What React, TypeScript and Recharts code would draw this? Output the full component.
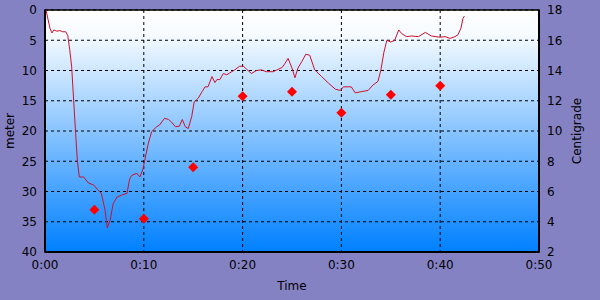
import React from 'react';
import { ComposedChart, Line, Scatter, XAxis, YAxis, CartesianGrid, ReferenceArea } from 'recharts';

const depthTimes = [0.1, 0.3, 0.5, 0.7, 0.9, 1.2, 1.5, 1.8, 2.1, 2.3, 2.5, 2.7, 2.9, 3.1, 3.27, 3.47, 3.9, 4.4, 4.9, 5.4, 5.7, 6.07, 6.3, 6.6, 6.9, 7.3, 7.76, 8.3, 8.5, 8.6, 8.8, 9.3, 9.6, 9.9, 10.1, 10.46, 10.8, 11.3, 11.6, 12.1, 12.5, 12.8, 13.2, 13.6, 13.9, 14.2, 14.5, 14.85, 15.1, 15.5, 15.9, 16.2, 16.5, 16.9, 17.2, 17.4, 17.7, 18.05, 18.4, 18.7, 19.2, 19.7, 20.1, 20.4, 20.9, 21.4, 21.9, 22.4, 23.1, 23.6, 24.0, 24.3, 24.6, 25.0, 25.3, 25.6, 26.0, 26.4, 26.8, 27.3, 28.0, 28.7, 29.4, 29.9, 30.2, 31.0, 31.4, 32.0, 32.7, 33.2, 33.7, 34.0, 34.3, 34.6, 35.0, 35.4, 35.8, 36.1, 36.6, 37.1, 37.8, 38.5, 39.1, 40.0, 40.5, 41.0, 41.5, 41.8, 42.1, 42.3, 42.45];
const depthMeters = [0, 1.5, 3.0, 3.8, 3.3, 3.5, 3.4, 3.6, 3.6, 4.2, 6.5, 9.4, 14.9, 20.4, 24.8, 27.6, 27.6, 28.6, 28.9, 29.8, 30.3, 33.0, 36.0, 34.7, 32.0, 30.9, 30.6, 30.3, 28.5, 27.8, 27.3, 27.0, 27.6, 26.4, 24.8, 22.0, 20.1, 19.3, 19.0, 17.9, 18.1, 18.5, 19.3, 19.2, 18.1, 19.3, 19.6, 17.6, 15.2, 14.6, 13.5, 12.7, 12.7, 11.0, 12.0, 11.5, 11.5, 10.5, 10.7, 10.4, 9.9, 9.3, 9.3, 9.8, 10.5, 10.0, 9.9, 10.2, 10.2, 9.8, 9.5, 8.8, 8.0, 9.6, 11.2, 9.6, 8.5, 7.3, 7.5, 9.9, 11.0, 12.1, 13.1, 13.3, 12.7, 12.7, 13.7, 13.5, 13.3, 12.4, 11.8, 9.9, 7.0, 5.0, 5.3, 5.0, 3.3, 3.9, 4.4, 4.3, 4.4, 3.7, 4.3, 4.5, 4.4, 4.7, 4.4, 4.1, 3.0, 1.4, 1.0];

const tempTimes = [5, 10, 15, 20, 25, 30, 35, 40];
const tempValues = [4.8, 4.2, 7.6, 12.3, 12.6, 11.2, 12.4, 13.0];

const timeTicks = [0, 10, 20, 30, 40, 50];
const meterTicks = [0, 5, 10, 15, 20, 25, 30, 35, 40];
const tempTicks = [2, 4, 6, 8, 10, 12, 14, 16, 18];

const depthData = depthTimes.map((t, i) => ({ t, depth: depthMeters[i] }));
const tempData = tempTimes.map((t, i) => ({ t, temp: tempValues[i] }));

const fmtTime = (v: number) => `${Math.floor(v / 60)}:${String(v % 60).padStart(2, '0')}`;

const Diamond = (props: any) => {
  const { cx, cy } = props;
  if (cx == null || cy == null) return null;
  const r = 5;
  return <polygon points={`${cx},${cy - r} ${cx + r},${cy} ${cx},${cy + r} ${cx - r},${cy}`} fill="#FF0000" />;
};

const tickStyle = { fill: '#000', fontSize: 12, fontFamily: 'DejaVu Sans' };

export default function App() {
  return (
    <div style={{ position: 'absolute', left: 0, top: 0, width: 600, height: 300, background: '#8582C4', fontFamily: 'DejaVu Sans' }}>
      <ComposedChart width={600} height={300} margin={{ top: 10, right: 0, bottom: 0, left: 0 }}>
        <defs>
          <linearGradient id="bg" x1="0" y1="0" x2="0" y2="1">
            <stop offset="0" stopColor="#FFFFFF" />
            <stop offset="0.1" stopColor="#F6FBFF" />
            <stop offset="1" stopColor="#0080FF" />
          </linearGradient>
        </defs>
        <CartesianGrid yAxisId="left" fill="url(#bg)" fillOpacity={1} stroke="#000" strokeDasharray="3 3" />
        <XAxis
          dataKey="t"
          type="number"
          domain={[0, 50]}
          ticks={timeTicks}
          tickFormatter={fmtTime}
          allowDuplicatedCategory={false}
          height={48}
          tickLine={false}
          axisLine={{ stroke: '#000', strokeWidth: 2 }}
          tick={tickStyle}
          label={{ value: 'Time', position: 'insideBottom', offset: 10, style: { fill: '#000', fontSize: 12, fontFamily: 'DejaVu Sans' } }}
        />
        <YAxis
          yAxisId="left"
          type="number"
          domain={[0, 40]}
          reversed
          ticks={meterTicks}
          width={45}
          tickLine={false}
          axisLine={{ stroke: '#000', strokeWidth: 2 }}
          tick={tickStyle}
          label={{ value: 'meter', angle: -90, position: 'insideLeft', offset: 10, style: { textAnchor: 'middle', fill: '#000', fontSize: 12, fontFamily: 'DejaVu Sans' } }}
        />
        <YAxis
          yAxisId="right"
          orientation="right"
          type="number"
          domain={[2, 18]}
          ticks={tempTicks}
          width={61}
          tickLine={false}
          axisLine={{ stroke: '#000', strokeWidth: 2 }}
          tick={tickStyle}
          label={{ value: 'Centigrade', angle: -90, position: 'insideRight', offset: 23, style: { textAnchor: 'middle', fill: '#000', fontSize: 12, fontFamily: 'DejaVu Sans' } }}
        />
        <ReferenceArea yAxisId="left" x1={0} x2={50} y1={0} y2={40} fill="none" stroke="#000" strokeWidth={1.5} ifOverflow="visible" />
        <Line
          yAxisId="left"
          data={depthData}
          dataKey="depth"
          type="linear"
          stroke="#D0102A"
          strokeWidth={1}
          dot={false}
          activeDot={false}
          isAnimationActive={false}
        />
        <Scatter yAxisId="right" data={tempData} dataKey="temp" shape={<Diamond />} isAnimationActive={false} />
      </ComposedChart>
    </div>
  );
}
